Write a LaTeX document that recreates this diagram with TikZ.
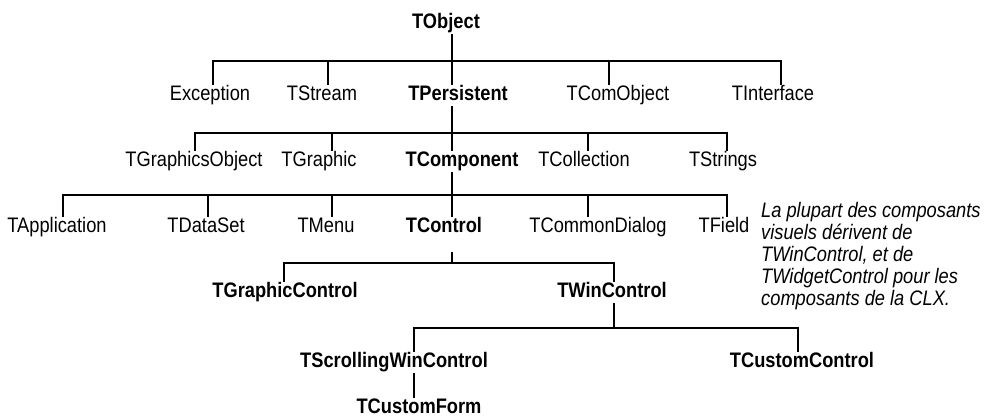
\documentclass[tikz,border=0pt]{standalone}
\usepackage{fontspec}
\setmainfont{Liberation Sans}[FakeStretch=0.87]
\begin{document}
\begin{tikzpicture}[x=1pt,y=-1pt,
  cls/.style={anchor=base, inner xsep=0pt, inner ysep=0pt,
    text height=15pt, text depth=6pt, font=\fontsize{21}{22}\selectfont},
  key/.style={cls, font=\fontsize{21}{22}\selectfont\bfseries},
  note/.style={anchor=north west, inner sep=0pt, align=left,
    font=\fontsize{21}{22}\selectfont\itshape},
  link/.style={line width=1.1pt}]
\useasboundingbox (0,0) rectangle (992,416);

% class names, placed on their baselines
\node[key] (tobj)     at (446,28)  {TObject};

\node[cls] (exc)      at (210,100) {Exception};
\node[cls] (tstream)  at (322,100) {TStream};
\node[key] (tpers)    at (458,100) {TPersistent};
\node[cls] (tcomobj)  at (618,100) {TComObject};
\node[cls] (tintf)    at (773,100) {TInterface};

\node[cls] (tgobj)    at (194,166) {TGraphicsObject};
\node[cls] (tgraphic) at (319,166) {TGraphic};
\node[key] (tcomp)    at (462,166) {TComponent};
\node[cls] (tcoll)    at (584,166) {TCollection};
\node[cls] (tstrings) at (723,166) {TStrings};

\node[cls] (tapp)     at (57,232)  {TApplication};
\node[cls] (tdataset) at (206,232) {TDataSet};
\node[cls] (tmenu)    at (326,232) {TMenu};
\node[key] (tctl)     at (444,232) {TControl};
\node[cls] (tcdlg)    at (598,232) {TCommonDialog};
\node[cls] (tfield)   at (724,232) {TField};

\node[key] (tgctl)    at (285,297) {TGraphicControl};
\node[key] (twctl)    at (612,297) {TWinControl};

\node[key] (tswc)     at (394,367) {TScrollingWinControl};
\node[key] (tcctl)    at (802,367) {TCustomControl};

\node[key] (tcform)   at (419,413) {TCustomForm};

\node[note] (remark) at (761,202) {La plupart des composants\\
visuels dérivent de\\
TWinControl, et de\\
TWidgetControl pour les\\
composants de la CLX.};

% junctions where each parent meets its children's bar
\coordinate (j0) at (452,61);
\coordinate (j1) at (452,133);
\coordinate (j2) at (452,195);
\coordinate (j3) at (452,263);
\coordinate (j4) at (614,328);

% TObject
\draw[link] (tobj.south -| j0) -- (tpers.north -| j0);
\draw[link] ([xshift=3pt]exc.north) |- (j0) -| ([xshift=8pt]tintf.north);
\draw[link] ([xshift=6pt]tstream.north) -- ++(0,-24);
\draw[link] ([xshift=-9pt]tcomobj.north) -- ++(0,-24);

% TPersistent
\draw[link] (tpers.south -| j1) -- (tcomp.north -| j1);
\draw[link] ([xshift=1pt]tgobj.north) |- (j1) -| ([xshift=4pt]tstrings.north);
\draw[link] ([xshift=13pt]tgraphic.north) -- ++(0,-18);
\draw[link] ([xshift=4pt]tcoll.north) -- ++(0,-18);

% TComponent
\draw[link] (tcomp.south -| j2) -- (tctl.north -| j2);
\draw[link] ([xshift=6pt]tapp.north) |- (j2) -| ([xshift=3pt]tfield.north);
\draw[link] ([xshift=2pt]tdataset.north) -- ++(0,-22);
\draw[link] ([xshift=6pt]tmenu.north) -- ++(0,-22);
\draw[link] ([xshift=-10pt]tcdlg.north) -- ++(0,-22);

% TControl
\draw[link] (j3) -- ++(0,-11);
\draw[link] ([xshift=-1pt]tgctl.north) |- (j3) -| ([xshift=2pt]twctl.north);

% TWinControl
\draw[link] (twctl.south -| j4) -- (j4);
\draw[link] ([xshift=20pt]tswc.north) |- (j4) -| ([xshift=-4pt]tcctl.north);

% TScrollingWinControl
\draw[link] ([xshift=20pt]tswc.south) -- ([xshift=-5pt]tcform.north);
\end{tikzpicture}
\end{document}
